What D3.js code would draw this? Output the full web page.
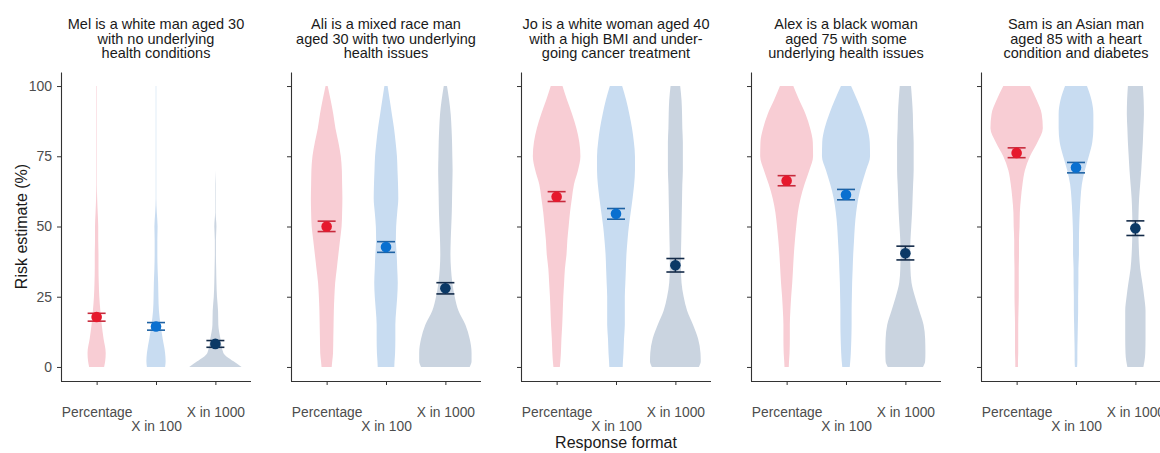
<!DOCTYPE html>
<html>
<head>
<meta charset="utf-8">
<script src="https://cdn.jsdelivr.net/npm/d3@7"></script>
<style>
  html, body { margin: 0; padding: 0; background: #fff; }
  svg { display: block; font-family: "Liberation Sans", Arial, sans-serif; }
</style>
</head>
<body>
<svg id="chart" width="1160" height="453"></svg>
<script>
// ---------------- DATA ----------------
const formats = ["Percentage", "X in 100", "X in 1000"];

const scenarioTitles = [
  ["Mel is a white man aged 30", "with no underlying", "health conditions"],
  ["Ali is a mixed race man", "aged 30 with two underlying", "health issues"],
  ["Jo is a white woman aged 40", "with a high BMI and under-", "going cancer treatment"],
  ["Alex is a black woman", "aged 75 with some", "underlying health issues"],
  ["Sam is an Asian man", "aged 85 with a heart", "condition and diabetes"]
];

const yTicks = [0, 25, 50, 75, 100];

// risk levels (%) at which the violin densities are read
const levels = [0, 2, 5, 10, 15, 20, 25, 30, 35, 40, 45, 50, 55, 60, 65, 70, 75, 80, 85, 90, 95, 100];

// relative density (0-100) per scenario, one row per scenario
const densPercentage = [
  [28,32,34,26,19,14,10,8,7,7,6,6,4,2,1,1,1,1,1,1,1,1],
  [19,21,24,25,26,27,29,32,38,44,50,56,58,59,58,57,53,44,33,25,15,4],
  [12,14,16,18,21,23,25,28,31,37,40,45,50,57,65,80,89,85,74,58,39,22],
  [8,9,11,12,12,14,17,21,24,27,31,36,42,52,67,85,99,98,88,71,47,25],
  [5,5,6,6,6,7,8,8,8,9,9,11,12,16,22,31,50,78,98,94,75,50]
];
const densX100 = [
  [34,36,34,25,17,11,9,8,6,5,5,6,3,1,1,1,1,1,1,1,1,1],
  [31,32,34,35,35,38,42,44,42,40,37,38,42,46,45,43,41,36,30,22,14,6],
  [25,26,28,30,33,33,33,35,37,39,43,48,55,62,68,71,71,67,60,50,38,23],
  [14,16,18,20,21,21,22,23,25,27,30,33,38,46,59,75,90,89,80,63,42,19],
  [4,5,5,6,7,8,8,9,9,11,11,12,14,17,22,33,48,61,65,65,58,41]
];
const densX1000 = [
  [98,68,30,19,11,10,6,4,3,2,2,4,1,1,1,0,0,0,0,0,0,0],
  [91,98,98,91,75,49,35,26,21,19,20,22,24,25,26,27,26,25,23,20,14,6],
  [88,95,94,85,66,44,31,23,21,21,22,23,24,25,26,28,28,28,26,25,23,18],
  [66,74,75,74,68,52,36,23,19,18,19,22,25,27,29,31,31,31,29,28,25,21],
  [30,34,37,38,38,38,33,26,18,14,12,11,12,14,18,22,25,28,30,32,31,28]
];

// mean risk estimate with 95% CI, per scenario
const meanPercentage = [17.8, 50.0, 60.6, 66.3, 76.2];
const lowPercentage  = [16.3, 48.2, 58.9, 64.5, 74.5];
const highPercentage = [19.1, 51.9, 62.4, 68.1, 78.0];

const meanX100 = [14.4, 42.7, 54.5, 61.3, 71.0];
const lowX100  = [13.1, 40.8, 52.6, 59.5, 69.1];
const highX100 = [15.8, 44.6, 56.4, 63.2, 72.8];

const meanX1000 = [8.2, 28.0, 36.2, 40.5, 49.4];
const lowX1000  = [7.0, 26.0, 33.8, 38.1, 46.8];
const highX1000 = [9.4, 30.0, 38.6, 43.0, 52.0];

// ---------------- STYLE / LAYOUT ----------------
const violinFill = ["#f8cdd4", "#c8dcf1", "#cad4e0"];
const pointColor = ["#e6192d", "#0a70d0", "#0b3966"];
const barColor   = ["#c72a3c", "#1f62a3", "#132a48"];

const panelLeft0 = 61, panelStep = 230, panelW = 190;
const plotTop = 72, plotBottom = 381;

const svg = d3.select("#chart");

const y = d3.scaleLinear().domain([-5, 105]).range([plotBottom, plotTop]);

const dens = [densPercentage, densX100, densX1000];
const means = [meanPercentage, meanX100, meanX1000];
const lows = [lowPercentage, lowX100, lowX1000];
const highs = [highPercentage, highX100, highX1000];

scenarioTitles.forEach((titleLines, p) => {
  const left = panelLeft0 + p * panelStep;
  const x = d3.scalePoint().domain(formats).range([left, left + panelW]).padding(0.6);
  const w = d3.scaleLinear().domain([0, 100]).range([0, x.step() * 0.45]);
  const g = svg.append("g");

  // title
  const cx = left + panelW / 2;
  g.append("text")
    .attr("x", cx).attr("y", 29)
    .attr("text-anchor", "middle")
    .attr("font-size", 14.5).attr("fill", "#1a1a1a")
    .selectAll("tspan").data(titleLines).join("tspan")
    .attr("x", cx).attr("dy", (d, i) => i === 0 ? 0 : 14.6)
    .text(d => d);

  // violins
  formats.forEach((f, k) => {
    const vals = dens[k][p];
    const area = d3.area()
      .y((d, i) => y(levels[i]))
      .x0((d) => x(f) - w(d))
      .x1((d) => x(f) + w(d))
      .curve(d3.curveMonotoneY);
    g.append("path")
      .datum(vals)
      .attr("d", area)
      .attr("fill", violinFill[k]);
  });

  // error bars + points
  formats.forEach((f, k) => {
    const xc = x(f);
    const lo = lows[k][p], hi = highs[k][p], m = means[k][p];
    const capHalf = 9;
    g.append("line").attr("x1", xc).attr("x2", xc).attr("y1", y(lo)).attr("y2", y(hi))
      .attr("stroke", barColor[k]).attr("stroke-width", 1.5);
    [lo, hi].forEach(v => {
      g.append("line").attr("x1", xc - capHalf).attr("x2", xc + capHalf)
        .attr("y1", y(v)).attr("y2", y(v))
        .attr("stroke", barColor[k]).attr("stroke-width", 1.6);
    });
    g.append("circle").attr("cx", xc).attr("cy", y(m)).attr("r", 5.3)
      .attr("fill", pointColor[k]);
  });

  // y axis
  const ya = g.append("g").attr("transform", `translate(${left},0)`)
    .call(d3.axisLeft(y).tickValues(yTicks).tickSize(4).tickSizeOuter(0).tickPadding(5)
      .tickFormat(p === 0 ? d3.format("d") : () => ""));
  ya.select(".domain").attr("stroke", "#333").attr("stroke-width", 1.1);
  ya.selectAll(".tick line").attr("stroke", "#333");
  ya.selectAll(".tick text").attr("font-size", 14).attr("fill", "#4d4d4d")
    .attr("font-family", "Liberation Sans, Arial, sans-serif");

  // x axis
  const xa = g.append("g").attr("transform", `translate(0,${plotBottom})`)
    .call(d3.axisBottom(x).tickSize(4).tickSizeOuter(0).tickPadding(22));
  xa.select(".domain").attr("stroke", "#333").attr("stroke-width", 1.1)
    .attr("d", `M${left},0.5H${left + panelW}`);
  xa.selectAll(".tick line").attr("stroke", "#333");
  xa.selectAll(".tick text").attr("font-size", 13.8).attr("fill", "#4d4d4d")
    .attr("font-family", "Liberation Sans, Arial, sans-serif")
    .attr("y", (d, i) => i === 1 ? 40 : 26);
});

// axis titles
svg.append("text")
  .attr("transform", `translate(27,${(plotTop + plotBottom) / 2}) rotate(-90)`)
  .attr("text-anchor", "middle")
  .attr("font-size", 16).attr("fill", "#1a1a1a")
  .text("Risk estimate (%)");

svg.append("text")
  .attr("x", panelLeft0 + 2 * panelStep + panelW / 2).attr("y", 448)
  .attr("text-anchor", "middle")
  .attr("font-size", 16).attr("fill", "#1a1a1a")
  .text("Response format");
</script>
</body>
</html>
